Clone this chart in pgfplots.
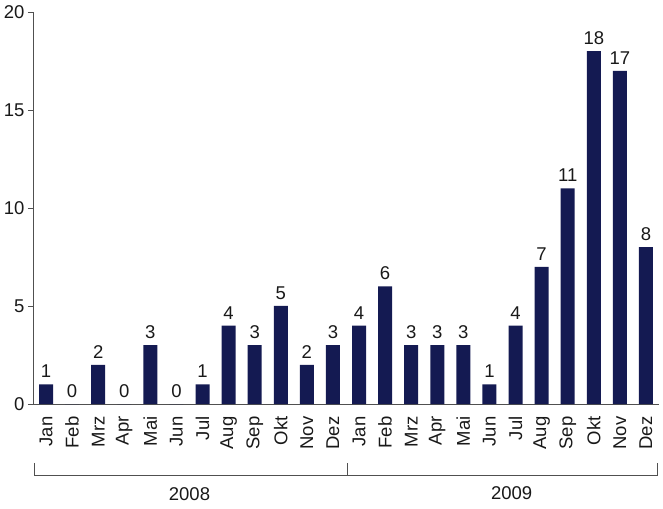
\documentclass[border=0pt]{standalone}
\usepackage{pgfplots}
\pgfplotsset{compat=1.18}
\usepackage{fontspec}
\setmainfont{Liberation Sans}
\definecolor{navy}{RGB}{20,26,82}
\definecolor{axisgray}{RGB}{80,80,80}
\newcommand{\lbl}{\fontsize{18.5}{21}\selectfont}
\begin{document}
\begin{tikzpicture}
\useasboundingbox (-33pt,-104pt) rectangle (630pt,404pt);
\begin{axis}[
    scale only axis,
    width=626pt, height=392pt,
    at={(0,0)}, anchor=south west,
    ybar, bar width=14pt, bar shift=0pt,
    xmin=-0.5, xmax=23.5, ymin=0, ymax=20,
    axis x line*=bottom, axis y line*=left,
    axis line style={axisgray, line width=0.8pt},
    xtick={0,...,23},
    xticklabels={Jan,Feb,Mrz,Apr,Mai,Jun,Jul,Aug,Sep,Okt,Nov,Dez,
                 Jan,Feb,Mrz,Apr,Mai,Jun,Jul,Aug,Sep,Okt,Nov,Dez},
    x tick label style={rotate=90, anchor=east, font=\lbl, text=black!90},
    xticklabel shift=4pt,
    major x tick style={draw=none},
    extra x ticks={-0.5,0.5,...,23.5},
    extra x tick labels={},
    extra x tick style={major tick length=5pt, tick align=outside, tick style={axisgray, line width=0.8pt}},
    ytick={0,5,10,15,20},
    y tick label style={font=\lbl, text=black!90},
    tick align=outside, major tick length=5pt,
    y tick style={axisgray, line width=0.8pt},
    /pgf/number format/assume math mode=true,
    nodes near coords,
    nodes near coords style={font=\lbl, text=black!90, yshift=3pt},
    clip=false,
]
\addplot[fill=navy, draw=none] coordinates {
 (0,1) (1,0) (2,2) (3,0) (4,3) (5,0) (6,1) (7,4) (8,3) (9,5) (10,2) (11,3)
 (12,4) (13,6) (14,3) (15,3) (16,3) (17,1) (18,4) (19,7) (20,11) (21,18) (22,17) (23,8)
};
\draw[axisgray, line width=0.8pt] (axis cs:-0.46,-3.01) -- (axis cs:-0.46,-3.62) -- (axis cs:23.45,-3.62) -- (axis cs:23.45,-3.01);
\draw[axisgray, line width=0.8pt] (axis cs:11.55,-3.62) -- (axis cs:11.55,-3.01);
\node[text=black!90, font=\lbl] at (axis cs:5.5,-4.6) {2008};
\node[text=black!90, font=\lbl] at (axis cs:17.85,-4.55) {2009};
\end{axis}
\end{tikzpicture}
\end{document}
